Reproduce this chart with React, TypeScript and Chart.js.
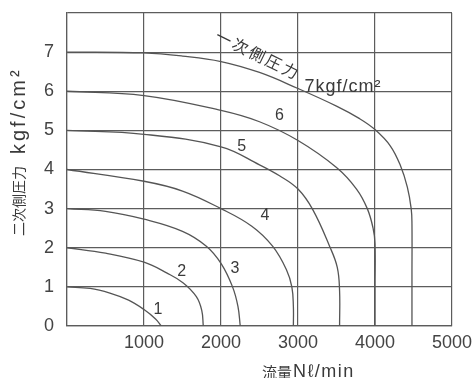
import React, { useEffect, useRef } from "react";
import { Chart, registerables } from "chart.js";

Chart.register(...registerables);

// ---- data (flow N l/min vs secondary pressure kgf/cm2) ----
const curve1X = [0, 300, 557, 800, 1000, 1150, 1225];
const curve1Y = [1, 0.96, 0.84, 0.66, 0.42, 0.18, 0];

const curve2X = [0, 500, 1000, 1300, 1510, 1680, 1750, 1770];
const curve2Y = [2, 1.86, 1.63, 1.35, 1.1, 0.75, 0.4, 0];

const curve3X = [0, 500, 1000, 1500, 1810, 2000, 2150, 2220, 2250];
const curve3Y = [3, 2.93, 2.73, 2.42, 2.04, 1.6, 1.0, 0.5, 0];

const curve4X = [0, 1000, 1500, 2000, 2400, 2670, 2850, 2920, 2940, 2940];
const curve4Y = [4, 3.7, 3.45, 3.0, 2.55, 2.04, 1.44, 1.0, 0.5, 0];

const curve5X = [0, 1000, 2000, 2500, 2760, 3000, 3190, 3410, 3510, 3540, 3540];
const curve5Y = [5, 4.9, 4.58, 4.12, 3.84, 3.5, 2.98, 2.04, 1.5, 0.9, 0];

const curve6X = [0, 1000, 2000, 2500, 3000, 3500, 3760, 3900, 3975, 4000, 4000, 4000];
const curve6Y = [6, 5.89, 5.51, 5.22, 4.74, 4.05, 3.5, 3.0, 2.5, 2.1, 1.0, 0];

const curve7X = [0, 1000, 1500, 2000, 2500, 3000, 3500, 3800, 4000, 4200, 4330, 4420, 4470, 4480, 4480, 4480];
const curve7Y = [7, 6.98, 6.9, 6.76, 6.48, 6.07, 5.62, 5.3, 5.02, 4.6, 4.1, 3.55, 3.0, 2.6, 1.3, 0];

const curvesX = [curve1X, curve2X, curve3X, curve4X, curve5X, curve6X, curve7X];
const curvesY = [curve1Y, curve2Y, curve3Y, curve4Y, curve5Y, curve6Y, curve7Y];

const curveLabelText = ["1", "2", "3", "4", "5", "6"];
const curveLabelX = [1180, 1490, 2180, 2570, 2270, 2760];
const curveLabelY = [0.41, 1.39, 1.46, 2.83, 4.58, 5.37];

const xTicks = [0, 1000, 2000, 3000, 4000, 5000];
const yTicks = [0, 1, 2, 3, 4, 5, 6, 7, 8];

const primaryLabelCJK = "一次側圧力";
const primaryLabelUnit = "7kgf/cm²";
const yTitleCJK = "二次側圧力";
const yTitleUnit = "kgf/cm²";
const xTitleCJK = "流量";
const xTitleUnit = "Nℓ/min";

const LATIN = "'Liberation Sans', Arial, sans-serif";
const CJK = "'Noto Sans CJK JP', 'Noto Sans CJK SC', sans-serif";
const TEXT = "#3a3a3a";

const textPlugin = {
  id: "textPlugin",
  afterDatasetsDraw(chart: any) {
    const { ctx, chartArea } = chart;
    const xs = chart.scales.x;
    const ys = chart.scales.y;
    ctx.save();
    ctx.fillStyle = TEXT;

    // curve numbers
    ctx.font = `16px ${LATIN}`;
    ctx.textAlign = "center";
    ctx.textBaseline = "middle";
    curveLabelText.forEach((t, i) => {
      ctx.fillText(t, xs.getPixelForValue(curveLabelX[i]), ys.getPixelForValue(curveLabelY[i]));
    });

    // slanted primary pressure label
    ctx.save();
    ctx.translate(xs.getPixelForValue(1943), ys.getPixelForValue(7.45));
    ctx.rotate((26 * Math.PI) / 180);
    ctx.textAlign = "left";
    ctx.textBaseline = "middle";
    ctx.font = `16px ${CJK}`;
    try { (ctx as any).letterSpacing = "2.5px"; } catch (e) {}
    ctx.fillText(primaryLabelCJK, 0, 0);
    ctx.restore();

    ctx.save();
    ctx.textAlign = "left";
    ctx.textBaseline = "middle";
    ctx.font = `18px ${LATIN}`;
    try { (ctx as any).letterSpacing = "1px"; } catch (e) {}
    ctx.fillText(primaryLabelUnit, xs.getPixelForValue(3083), ys.getPixelForValue(6.12));
    ctx.restore();

    // y axis title
    ctx.save();
    ctx.translate(19, chartArea.bottom - 90);
    ctx.rotate(-Math.PI / 2);
    ctx.textAlign = "left";
    ctx.textBaseline = "middle";
    ctx.font = `14px ${CJK}`;
    ctx.fillText(yTitleCJK, 0, 0);
    ctx.font = `20px ${LATIN}`;
    try { (ctx as any).letterSpacing = "3px"; } catch (e) {}
    ctx.fillText(yTitleUnit, 82, 0);
    ctx.restore();

    // x axis title
    ctx.save();
    ctx.textAlign = "left";
    ctx.textBaseline = "middle";
    ctx.font = `15px ${CJK}`;
    const xt = chartArea.left + 195;
    const yt = chartArea.bottom + 46;
    ctx.fillText(xTitleCJK, xt, yt);
    ctx.font = `18px ${LATIN}`;
    try { (ctx as any).letterSpacing = "1.5px"; } catch (e) {}
    ctx.fillText(xTitleUnit, xt + 31, yt);
    ctx.restore();

    ctx.restore();
  },
};

export default function App() {
  const ref = useRef<HTMLCanvasElement>(null);

  useEffect(() => {
    if (!ref.current) return;
    const datasets = curvesX.map((xs, i) => ({
      label: `curve${i + 1}`,
      data: xs.map((x, j) => ({ x, y: curvesY[i][j] })),
      borderColor: "#555",
      borderWidth: 1.3,
      pointRadius: 0,
      tension: 0.4,
      fill: false,
    }));
    const tickFont = { family: "'Liberation Sans', Arial, sans-serif", size: 18 };
    const chart = new Chart(ref.current, {
      type: "line",
      data: { datasets },
      options: {
        animation: false,
        responsive: false,
        devicePixelRatio: 1,
        layout: { padding: { top: 13, right: 23, left: 0, bottom: 0 } },
        plugins: { legend: { display: false }, tooltip: { enabled: false } },
        scales: {
          x: {
            type: "linear",
            position: "bottom",
            min: 0,
            max: 5000,
            afterBuildTicks: (s: any) => {
              s.ticks = xTicks.map((v) => ({ value: v }));
            },
            afterFit: (s: any) => {
              s.height = 52;
              s.paddingLeft = 0;
              s.paddingRight = 0;
            },
            ticks: {
              padding: 6,
              color: "#444",
              font: tickFont,
              maxRotation: 0,
              autoSkip: false,
              callback: (v: any) => (v === 0 ? "" : String(v)),
            },
            grid: { color: "#5c5c5c", lineWidth: 1.2, drawTicks: false },
            border: { color: "#5c5c5c", width: 1.2 },
          },
          y: {
            type: "linear",
            position: "left",
            min: 0,
            max: 8,
            afterBuildTicks: (s: any) => {
              s.ticks = yTicks.map((v) => ({ value: v }));
            },
            afterFit: (s: any) => {
              s.width = 67;
              s.paddingTop = 0;
              s.paddingBottom = 0;
            },
            ticks: {
              padding: 13,
              color: "#444",
              font: tickFont,
              autoSkip: false,
              callback: (v: any) => (v === 8 ? "" : String(v)),
            },
            grid: { color: "#5c5c5c", lineWidth: 1.2, drawTicks: false },
            border: { color: "#5c5c5c", width: 1.2 },
          },
        },
      },
      plugins: [textPlugin],
    } as any);
    return () => chart.destroy();
  }, []);

  return (
    <div style={{ position: "absolute", left: 0, top: 0, width: 475, height: 378, background: "#fff" }}>
      <canvas ref={ref} width={475} height={378} style={{ display: "block" }} />
    </div>
  );
}
